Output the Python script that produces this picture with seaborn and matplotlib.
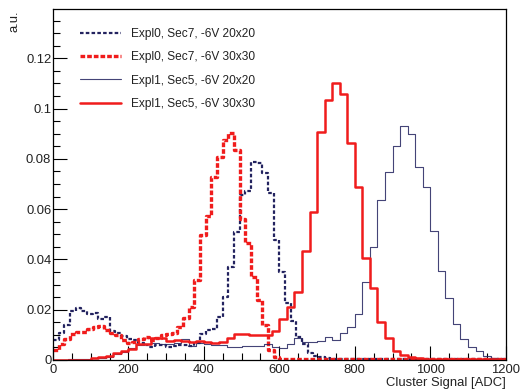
import numpy as np
import pandas as pd
import matplotlib
matplotlib.use("Agg")
import matplotlib.pyplot as plt
from matplotlib.ticker import MultipleLocator
import seaborn as sns

# ---------------- data ----------------
edges_20 = np.linspace(0, 1200, 61)   # 20 ADC bins (Expl1)
edges_15 = np.linspace(0, 1200, 81)   # 15 ADC bins (Expl0)

expl0_20x20 = [0.008, 0.0106, 0.014, 0.0195, 0.0206, 0.0195, 0.0182, 0.0188, 0.0165, 0.0172,
               0.0115, 0.0106, 0.0095, 0.0085, 0.0078, 0.0068, 0.006, 0.0053, 0.006, 0.0058,
               0.0053, 0.0055, 0.0058, 0.006, 0.0055, 0.0068, 0.0105, 0.0118, 0.0125, 0.0172,
               0.0252, 0.0371, 0.051, 0.0656, 0.0672, 0.0788, 0.0785, 0.0745, 0.0663, 0.0477,
               0.0351, 0.0228, 0.0155, 0.0093, 0.0062, 0.0027, 0.0015, 0.001, 0.0007, 0.0005,
               0.0003, 0.0003, 0.0002, 0.0002, 0.0002, 0.0002, 0.0002, 0.0002, 0.0002, 0.0002,
               0.0002, 0.0002, 0.0002, 0.0002, 0.0002, 0.0002, 0.0002, 0.0002, 0.0002, 0.0002,
               0.0002, 0.0002, 0.0002, 0.0002, 0.0002, 0.0002, 0.0002, 0.0002, 0.0002, 0.0002]

expl0_30x30 = [0.004, 0.0062, 0.0082, 0.0105, 0.0112, 0.0112, 0.0125, 0.013, 0.0135, 0.0118,
               0.0106, 0.0098, 0.008, 0.0066, 0.0072, 0.0082, 0.009, 0.008, 0.0086, 0.0098,
               0.0105, 0.0108, 0.0132, 0.0168, 0.021, 0.0318, 0.0497, 0.0574, 0.0726, 0.0808,
               0.0875, 0.0901, 0.0835, 0.0561, 0.0464, 0.0331, 0.0239, 0.0139, 0.004, 0.0013,
               0.0004, 0.0004, 0.0003, 0.0003, 0.0003, 0.0003, 0.0003, 0.0003, 0.0003, 0.0003,
               0.0003, 0.0003, 0.0003, 0.0003, 0.0003, 0.0003, 0.0003, 0.0003, 0.0003, 0.0003,
               0.0003, 0.0003, 0.0003, 0.0003, 0.0003, 0.0003, 0.0003, 0.0003, 0.0003, 0.0003,
               0.0003, 0.0003, 0.0003, 0.0003, 0.0003, 0.0003, 0.0003, 0.0003, 0.0003, 0.0003]

expl1_20x20 = [0, 0, 0.0002, 0.0002, 0.0003,
               0.0006, 0.0009, 0.0013, 0.0022, 0.0033,
               0.0048, 0.006, 0.0064, 0.0066, 0.0062,
               0.0065, 0.0068, 0.0085, 0.0055, 0.0068,
               0.0064, 0.006, 0.0058, 0.0053, 0.0053,
               0.0054, 0.0055, 0.0055, 0.0062, 0.0052,
               0.0047, 0.0062, 0.0086, 0.0073, 0.0073,
               0.0077, 0.0093, 0.008, 0.0106, 0.0132,
               0.0184, 0.0311, 0.045, 0.0636, 0.0746,
               0.0852, 0.0932, 0.0899, 0.0766, 0.0689,
               0.0513, 0.0354, 0.0245, 0.0142, 0.0082,
               0.005, 0.0037, 0.0017, 0.0009, 0.0003]

expl1_30x30 = [0, 0, 0, 0, 0,
               0.0008, 0.0012, 0.0016, 0.0028, 0.0035,
               0.0045, 0.0065, 0.0065, 0.0088, 0.0088,
               0.0075, 0.0078, 0.0075, 0.0072, 0.0075,
               0.0073, 0.0066, 0.0073, 0.0086, 0.0105,
               0.0103, 0.0098, 0.0099, 0.0099, 0.0115,
               0.0164, 0.0209, 0.0272, 0.0435, 0.059,
               0.0908, 0.1034, 0.1103, 0.1058, 0.0862,
               0.0687, 0.0404, 0.0285, 0.0152, 0.0086,
               0.0037, 0.002, 0.001, 0.0006, 0.0004,
               0.0002, 0.0002, 0.0002, 0.0002, 0.0002,
               0.0002, 0.0002, 0.0002, 0.0002, 0.0002]

labels = ["Expl0, Sec7, -6V 20x20", "Expl0, Sec7, -6V 30x30",
          "Expl1, Sec5, -6V 20x20", "Expl1, Sec5, -6V 30x30"]
x_label = "Cluster Signal [ADC]"
y_label = "a.u."

# ---------------- style ----------------
sns.set_theme(style="ticks")
plt.rcParams["font.family"] = ["Liberation Sans", "DejaVu Sans"]

W, H = 523, 392
fig = plt.figure(figsize=(W / 100, H / 100), dpi=100)
ax = fig.add_axes([53 / W, 1 - 360 / H, 452.7 / W, 351 / H])

navy = "#23235f"
red = "#f01c1c"

series = [
    (expl0_20x20, edges_15, dict(color=navy, linewidth=1.6, linestyle=(0, (1.6, 1.0)))),
    (expl0_30x30, edges_15, dict(color=red, linewidth=2.4, linestyle=(0, (1.4, 0.6)))),
    (expl1_20x20, edges_20, dict(color=navy, linewidth=0.8, linestyle="-", alpha=0.85)),
    (expl1_30x30, edges_20, dict(color=red, linewidth=1.8, linestyle="-")),
]

for (vals, edges, kw), lab in zip(series, labels):
    centers = (edges[:-1] + edges[1:]) / 2
    df = pd.DataFrame({"adc": centers, "w": vals})
    sns.histplot(data=df, x="adc", weights="w", bins=list(edges), element="step",
                 fill=False, ax=ax, label=lab, **kw)

ax.set_xlim(0, 1200)
ax.set_ylim(0, 0.1396)
ax.set_xlabel("")
ax.set_ylabel("")

ax.xaxis.set_major_locator(MultipleLocator(200))
ax.xaxis.set_minor_locator(MultipleLocator(50))
ax.yaxis.set_major_locator(MultipleLocator(0.02))
ax.yaxis.set_minor_locator(MultipleLocator(0.005))
ax.yaxis.set_major_formatter(plt.FuncFormatter(lambda v, p: "0" if v == 0 else f"{v:g}"))

ax.tick_params(which="major", direction="in", length=10, width=0.8, color="black",
               labelsize=9.4, labelcolor="#222222", top=False, right=False)
ax.tick_params(which="minor", direction="in", length=5, width=0.8, color="black",
               top=False, right=False)
ax.tick_params(axis="y", which="major", pad=1.2)
ax.tick_params(axis="x", which="major", pad=3)

for s in ax.spines.values():
    s.set_color("black")
    s.set_linewidth(0.9)

leg = ax.legend(loc="upper left", bbox_to_anchor=(0.0596, 0.946), frameon=False,
                fontsize=8.6, handlelength=3.4, handletextpad=0.85,
                labelspacing=0.95, borderpad=0, borderaxespad=0)
for t in leg.get_texts():
    t.set_color("#222222")

fig.text(505.7 / W, 1 - 377 / H, x_label, ha="right", va="top", fontsize=9.4, color="#222222")
fig.text(8.5 / W, 1 - 11 / H, y_label, ha="left", va="top", rotation=90, fontsize=9.4, color="#222222")

fig.savefig("out.png", dpi=100)
